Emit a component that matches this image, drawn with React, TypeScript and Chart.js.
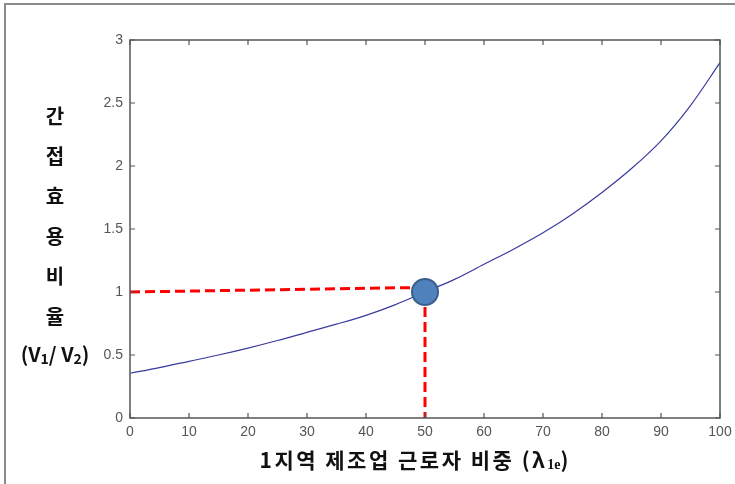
import React, { useEffect, useRef } from "react";
import { Chart, registerables } from "chart.js";

Chart.register(...registerables);

// ---- data ----
const shareValues = [0, 5, 10, 15, 20, 25, 30, 35, 40, 45, 50, 55, 60, 65, 70, 75, 80, 85, 90, 95, 100];
const ratioValues = [0.355, 0.4, 0.45, 0.5, 0.555, 0.615, 0.68, 0.745, 0.815, 0.9, 1.0, 1.1, 1.22, 1.34, 1.47, 1.62, 1.79, 1.98, 2.2, 2.48, 2.82];
const markerX = [50];
const markerY = [1];
const hGuideX = [0, 48];
const hGuideY = [1, 1.035];
const vGuideX = [50, 50];
const vGuideY = [1, 0];
const xTickValues = [0, 10, 20, 30, 40, 50, 60, 70, 80, 90, 100];
const yTickValues = [0, 0.5, 1, 1.5, 2, 2.5, 3];
const yTitleChars = ["간", "접", "효", "용", "비", "율"];
const xTitleMain = "1지역 제조업 근로자 비중 (λ";
const xTitleSub = "1e";
const xTitleEnd = ")";

const toPts = (xs: number[], ys: number[]) => xs.map((x, i) => ({ x, y: ys[i] }));

const W = 735;
const H = 484;

const decorPlugin = {
  id: "decor",
  beforeDraw(chart: any) {
    const ctx = chart.ctx;
    ctx.save();
    ctx.strokeStyle = "#8a8a8a";
    ctx.lineWidth = 2;
    ctx.beginPath();
    ctx.moveTo(5, H);
    ctx.lineTo(5, 4);
    ctx.lineTo(W, 4);
    ctx.stroke();
    ctx.restore();
  },
  afterDraw(chart: any) {
    const ctx = chart.ctx;
    const a = chart.chartArea;
    const xs = chart.scales.x;
    const ys = chart.scales.y;
    ctx.save();
    // axes box
    ctx.strokeStyle = "#555555";
    ctx.lineWidth = 1.5;
    ctx.strokeRect(a.left, a.top, a.right - a.left, a.bottom - a.top);
    // inward ticks
    ctx.lineWidth = 1.2;
    const tl = 5;
    ctx.beginPath();
    xTickValues.forEach((v) => {
      const px = xs.getPixelForValue(v);
      ctx.moveTo(px, a.bottom);
      ctx.lineTo(px, a.bottom - tl);
      ctx.moveTo(px, a.top);
      ctx.lineTo(px, a.top + tl);
    });
    yTickValues.forEach((v) => {
      const py = ys.getPixelForValue(v);
      ctx.moveTo(a.left, py);
      ctx.lineTo(a.left + tl, py);
      ctx.moveTo(a.right, py);
      ctx.lineTo(a.right - tl, py);
    });
    ctx.stroke();

    // y title (stacked)
    ctx.fillStyle = "#111111";
    ctx.textAlign = "center";
    ctx.textBaseline = "middle";
    ctx.font = 'bold 20px "Noto Sans CJK KR", sans-serif';
    const yStart = 116;
    const step = 40;
    yTitleChars.forEach((c, i) => {
      ctx.fillText(c, 55, yStart + i * step);
    });
    // (V1/ V2)
    const yLine = yStart + yTitleChars.length * step - 2;
    const big = 'bold 20px "Noto Sans CJK KR", sans-serif';
    const small = 'bold 14px "Noto Sans CJK KR", sans-serif';
    const segs: [string, string, number][] = [
      ["(V", big, 0],
      ["1", small, 5],
      ["/ V", big, 0],
      ["2", small, 5],
      [")", big, 0],
    ];
    let total = 0;
    segs.forEach(([t, f]) => {
      ctx.font = f;
      total += ctx.measureText(t).width;
    });
    let cx = 55 - total / 2;
    ctx.textAlign = "left";
    segs.forEach(([t, f, dy]) => {
      ctx.font = f;
      ctx.fillText(t, cx, yLine + dy);
      cx += ctx.measureText(t).width;
    });

    // x title
    const xBig = 'bold 21px "Noto Sans CJK KR", sans-serif';
    const xSmall = 'bold 14px "Liberation Serif", serif';
    (ctx as any).letterSpacing = "2.5px";
    ctx.font = xBig;
    const w1 = ctx.measureText(xTitleMain).width;
    ctx.font = xSmall;
    (ctx as any).letterSpacing = "0px";
    const w2 = ctx.measureText(xTitleSub).width;
    ctx.font = xBig;
    const w3 = ctx.measureText(xTitleEnd).width;
    let tx = 414 - (w1 + w2 + w3) / 2;
    const ty = 460;
    (ctx as any).letterSpacing = "2.5px";
    ctx.font = xBig;
    ctx.fillText(xTitleMain, tx, ty);
    tx += w1;
    (ctx as any).letterSpacing = "0px";
    ctx.font = xSmall;
    ctx.fillText(xTitleSub, tx, ty + 5);
    tx += w2;
    ctx.font = xBig;
    ctx.fillText(xTitleEnd, tx, ty);
    ctx.restore();
  },
};

export default function App() {
  const ref = useRef<HTMLCanvasElement | null>(null);
  useEffect(() => {
    if (!ref.current) return;
    const tickFont = { family: '"Liberation Sans", Arial, sans-serif', size: 14 };
    const chart = new Chart(ref.current, {
      type: "line",
      data: {
        datasets: [
          {
            label: "marker",
            data: toPts(markerX, markerY),
            showLine: false,
            pointRadius: 13,
            pointBackgroundColor: "#4f81bd",
            pointBorderColor: "#3a5f8c",
            pointBorderWidth: 2,
          },
          {
            label: "hguide",
            data: toPts(hGuideX, hGuideY),
            borderColor: "#ff0000",
            borderWidth: 3,
            borderDash: [10, 5],
            pointRadius: 0,
            fill: false,
          },
          {
            label: "vguide",
            data: toPts(vGuideX, vGuideY),
            borderColor: "#ff0000",
            borderWidth: 3,
            borderDash: [10, 5],
            pointRadius: 0,
            fill: false,
          },
          {
            label: "ratio",
            data: toPts(shareValues, ratioValues),
            borderColor: "#3a3aa0",
            borderWidth: 1.2,
            pointRadius: 0,
            cubicInterpolationMode: "monotone",
            fill: false,
          },
        ],
      },
      options: {
        animation: false,
        responsive: false,
        events: [],
        layout: { padding: { left: 0, top: 40, right: 14, bottom: 0 } },
        plugins: { legend: { display: false }, tooltip: { enabled: false }, title: { display: false } },
        scales: {
          x: {
            type: "linear",
            min: 0,
            max: 100,
            grid: { display: false, drawTicks: false },
            border: { display: false },
            ticks: {
              stepSize: 10,
              padding: 6,
              color: "#555555",
              font: tickFont,
              maxRotation: 0,
            },
            afterFit: (s: any) => {
              s.height = 66;
              s.paddingLeft = 0;
              s.paddingRight = 0;
            },
          },
          y: {
            type: "linear",
            min: 0,
            max: 3,
            grid: { display: false, drawTicks: false },
            border: { display: false },
            ticks: {
              stepSize: 0.5,
              padding: 7,
              color: "#555555",
              font: tickFont,
              callback: (v: any) => String(Number(v)),
            },
            afterFit: (s: any) => {
              s.width = 130;
              s.paddingTop = 0;
              s.paddingBottom = 0;
            },
          },
        },
      },
      plugins: [decorPlugin],
    } as any);
    return () => chart.destroy();
  }, []);
  return (
    <div style={{ position: "absolute", left: 0, top: 0, width: W, height: H, background: "#ffffff" }}>
      <canvas ref={ref} width={W} height={H} style={{ display: "block", width: W, height: H }} />
    </div>
  );
}
